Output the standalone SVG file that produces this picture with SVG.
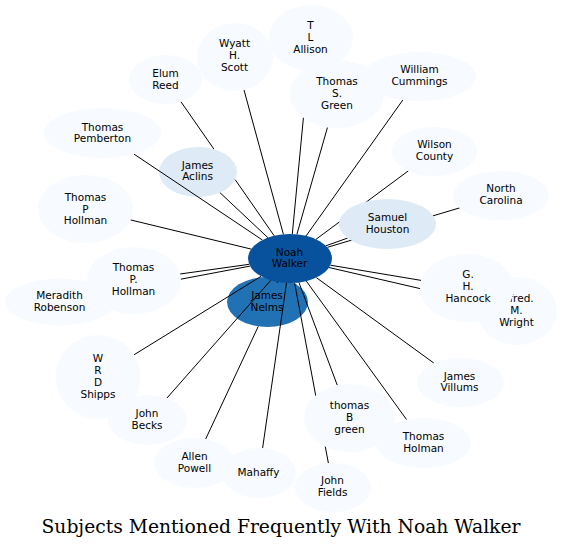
<svg xmlns="http://www.w3.org/2000/svg" width="562" height="548" viewBox="0 0 562 548">
<style>
.n1{fill:#f7fbff}
.n2{fill:#deebf7}
.n3{fill:#2171b5}
.n4{fill:#08519c}
text{font-family:"DejaVu Sans",sans-serif;font-size:10.5px;text-anchor:middle;fill:#000}
#edges line{stroke:#000;stroke-width:1}
.title{font-family:"DejaVu Serif",serif;font-size:18px}
</style>
<rect width="562" height="548" fill="#fff"/>
<g id="n-aclins"><ellipse class="n2" cx="198" cy="172" rx="39" ry="25"/><text><tspan x="197.5" y="168.5">James</tspan><tspan x="197.5" y="180.2">Aclins</tspan></text></g>
<g id="n-nelms"><ellipse class="n3" cx="267.5" cy="302" rx="40.5" ry="25"/><text><tspan x="267" y="299">James</tspan><tspan x="267" y="310.7">Nelms</tspan></text></g>
<g id="edges">
<line x1="292.3" y1="234" x2="307.9" y2="70.9"/>
<line x1="283.4" y1="234.3" x2="244" y2="90"/>
<line x1="180.9" y1="101.7" x2="213.9" y2="149.1"/>
<line x1="235.2" y1="179.7" x2="274.2" y2="235.8"/>
<line x1="296.9" y1="234.3" x2="327.5" y2="127.3"/>
<line x1="306.1" y1="235.9" x2="402.9" y2="99.9"/>
<line x1="262.4" y1="240" x2="134" y2="154.1"/>
<line x1="267.9" y1="237.7" x2="220" y2="192.7"/>
<line x1="316" y1="239.3" x2="408.4" y2="170.8"/>
<line x1="327.4" y1="247.3" x2="459.6" y2="207.9"/>
<line x1="325.9" y1="245.8" x2="347.5" y2="238.1"/>
<line x1="251.2" y1="249.1" x2="130.5" y2="219.9"/>
<line x1="249.2" y1="264.3" x2="180.1" y2="274"/>
<line x1="250" y1="266.1" x2="110.3" y2="292.5"/>
<line x1="277.6" y1="281.6" x2="277.1" y2="283"/>
<line x1="330.4" y1="265.2" x2="421.2" y2="280.4"/>
<line x1="329" y1="267.5" x2="478.4" y2="302.1"/>
<line x1="316.3" y1="277.6" x2="433.9" y2="363.1"/>
<line x1="306.3" y1="281.1" x2="406.6" y2="419.6"/>
<line x1="298.9" y1="282.4" x2="337.3" y2="385.3"/>
<line x1="294.6" y1="282.9" x2="328.4" y2="463.2"/>
<line x1="286.5" y1="282.9" x2="262.6" y2="448.1"/>
<line x1="258.3" y1="326.3" x2="205.7" y2="439"/>
<line x1="270.8" y1="280.3" x2="166.8" y2="398.2"/>
<line x1="261.1" y1="276.3" x2="134" y2="354.8"/>
</g>
<g id="n-allison"><ellipse class="n1" cx="311" cy="38" rx="42" ry="33"/><text><tspan x="310.5" y="28.8">T</tspan><tspan x="310.5" y="40.8">L</tspan><tspan x="310.5" y="52.8">Allison</tspan></text></g>
<g id="n-tsgreen"><ellipse class="n1" cx="337" cy="94" rx="47" ry="34"/><text><tspan x="337" y="85.4">Thomas</tspan><tspan x="337" y="97.1">S.</tspan><tspan x="337" y="108.8">Green</tspan></text></g>
<g id="n-wyatt"><ellipse class="n1" cx="235" cy="57" rx="38" ry="34"/><text><tspan x="234.5" y="46.8">Wyatt</tspan><tspan x="234.5" y="58.8">H.</tspan><tspan x="234.5" y="70.8">Scott</tspan></text></g>
<g id="n-elum"><ellipse class="n1" cx="165.5" cy="79.5" rx="36.5" ry="24.5"/><text><tspan x="165.5" y="76.8">Elum</tspan><tspan x="165.5" y="88.5">Reed</tspan></text></g>
<g id="n-cummings"><ellipse class="n1" cx="419.5" cy="76.5" rx="56.5" ry="24.5"/><text><tspan x="419.5" y="73">William</tspan><tspan x="419.5" y="84.7">Cummings</tspan></text></g>
<g id="n-pemberton"><ellipse class="n1" cx="102.5" cy="133" rx="58.5" ry="25"/><text><tspan x="102.5" y="130.5">Thomas</tspan><tspan x="102.5" y="142.2">Pemberton</tspan></text></g>
<g id="n-wilson"><ellipse class="n1" cx="434.5" cy="151.5" rx="42.5" ry="24.5"/><text><tspan x="434.5" y="148">Wilson</tspan><tspan x="434.5" y="159.7">County</tspan></text></g>
<g id="n-nc"><ellipse class="n1" cx="501" cy="195.5" rx="48" ry="24.5"/><text><tspan x="501" y="191.9">North</tspan><tspan x="501" y="203.6">Carolina</tspan></text></g>
<g id="n-houston"><ellipse class="n2" cx="387.5" cy="224" rx="48.5" ry="25"/><text><tspan x="387.5" y="220.9">Samuel</tspan><tspan x="387.5" y="232.6">Houston</tspan></text></g>
<g id="n-tphollman"><ellipse class="n1" cx="85.5" cy="209" rx="47.5" ry="34"/><text><tspan x="85.5" y="200.9">Thomas</tspan><tspan x="85.5" y="212.6">P</tspan><tspan x="85.5" y="224.3">Hollman</tspan></text></g>
<g id="n-meradith"><ellipse class="n1" cx="60" cy="302" rx="55" ry="23.5"/><text><tspan x="59.5" y="299">Meradith</tspan><tspan x="59.5" y="310.7">Robenson</tspan></text></g>
<g id="n-tpdhollman"><ellipse class="n1" cx="134" cy="280.5" rx="47" ry="33.5"/><text><tspan x="133.5" y="271.1">Thomas</tspan><tspan x="133.5" y="282.8">P.</tspan><tspan x="133.5" y="294.5">Hollman</tspan></text></g>
<g id="n-wright"><ellipse class="n1" cx="517" cy="311" rx="40" ry="34"/><text><tspan x="516.5" y="302.1">Alfred.</tspan><tspan x="516.5" y="313.8">M.</tspan><tspan x="516.5" y="325.5">Wright</tspan></text></g>
<g id="n-hancock"><ellipse class="n1" cx="467" cy="288" rx="47" ry="34"/><text><tspan x="468" y="278.1">G.</tspan><tspan x="468" y="289.8">H.</tspan><tspan x="468" y="301.5">Hancock</tspan></text></g>
<g id="n-villums"><ellipse class="n1" cx="460.5" cy="382.5" rx="43.5" ry="24.5"/><text><tspan x="459.5" y="379.5">James</tspan><tspan x="459.5" y="391.2">Villums</tspan></text></g>
<g id="n-tbgreen"><ellipse class="n1" cx="349.5" cy="418" rx="45.5" ry="34"/><text><tspan x="349.5" y="409">thomas</tspan><tspan x="349.5" y="420.8">B</tspan><tspan x="349.5" y="432.5">green</tspan></text></g>
<g id="n-holman"><ellipse class="n1" cx="423.5" cy="443" rx="47.5" ry="25"/><text><tspan x="423.5" y="440">Thomas</tspan><tspan x="423.5" y="451.7">Holman</tspan></text></g>
<g id="n-fields"><ellipse class="n1" cx="333" cy="487.5" rx="38" ry="24.5"/><text><tspan x="332.5" y="484">John</tspan><tspan x="332.5" y="495.7">Fields</tspan></text></g>
<g id="n-shipps"><ellipse class="n1" cx="98" cy="377" rx="42.5" ry="42"/><text><tspan x="98" y="361.5">W</tspan><tspan x="98" y="373.5">R</tspan><tspan x="98" y="385.5">D</tspan><tspan x="98" y="397.5">Shipps</tspan></text></g>
<g id="n-becks"><ellipse class="n1" cx="147.5" cy="420" rx="39.5" ry="25"/><text><tspan x="147" y="417">John</tspan><tspan x="147" y="428.7">Becks</tspan></text></g>
<g id="n-powell"><ellipse class="n1" cx="194.5" cy="463" rx="40.5" ry="25"/><text><tspan x="194.5" y="460">Allen</tspan><tspan x="194.5" y="471.7">Powell</tspan></text></g>
<g id="n-mahaffy"><ellipse class="n1" cx="259" cy="473" rx="37" ry="25"/><text><tspan x="258.5" y="475.8">Mahaffy</tspan></text></g>
<g id="n-noah"><ellipse class="n4" cx="290" cy="258.5" rx="42" ry="24.5"/><text><tspan x="289.5" y="255.5">Noah</tspan><tspan x="289.5" y="267.2">Walker</tspan></text></g>
<text class="title" x="281" y="532.5" textLength="479" lengthAdjust="spacingAndGlyphs">Subjects Mentioned Frequently With Noah Walker</text>
</svg>
